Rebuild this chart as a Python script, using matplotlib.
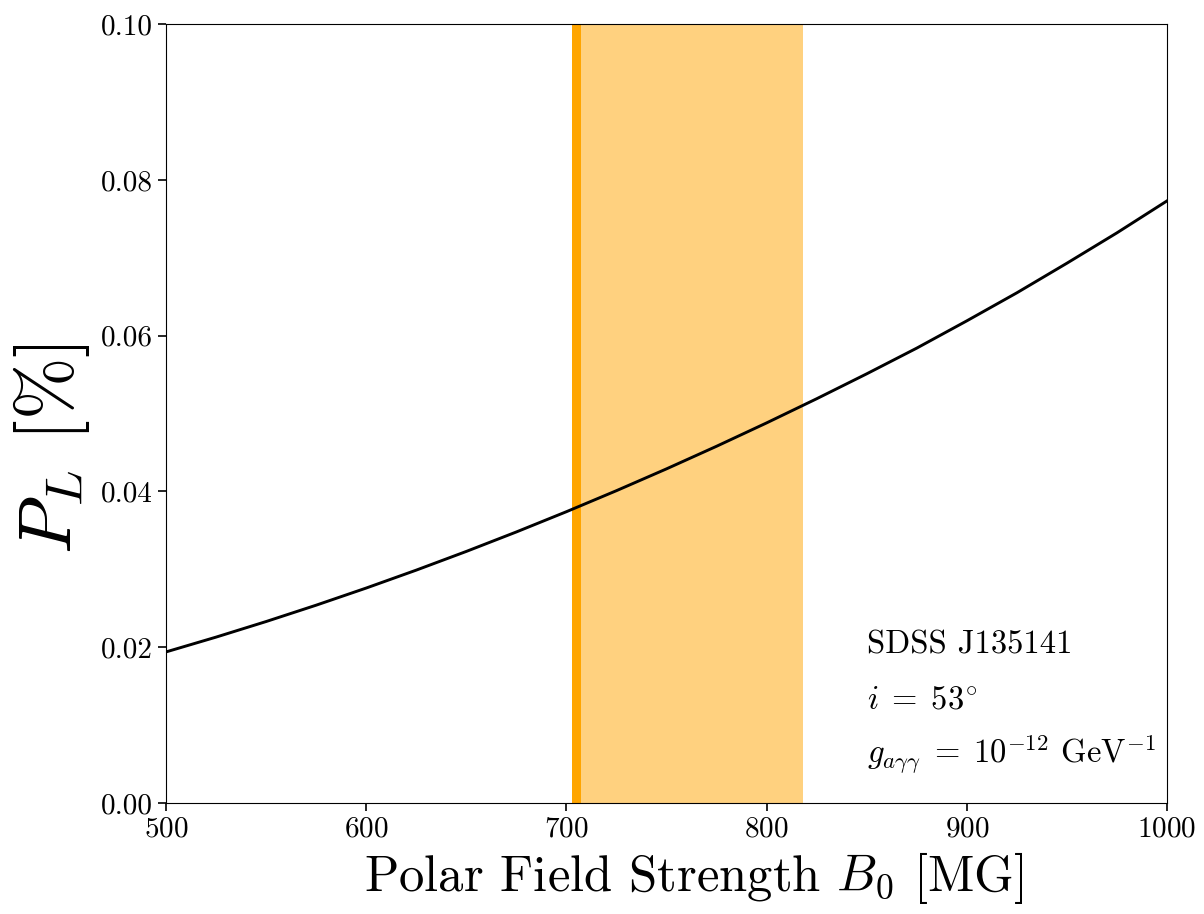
import numpy as np
import matplotlib
matplotlib.use("Agg")
import matplotlib.pyplot as plt

plt.rcParams['font.family'] = 'serif'
plt.rcParams['font.serif'] = ['cmr10']
plt.rcParams['mathtext.fontset'] = 'cm'
plt.rcParams['axes.formatter.use_mathtext'] = True

# values
B0 = [500, 525, 550, 575, 600, 625, 650, 675, 700, 725, 750,
      775, 800, 825, 850, 875, 900, 925, 950, 975, 1000]
PL = [0.0194, 0.0213, 0.0233, 0.0254, 0.0276, 0.0299, 0.0323, 0.0348,
      0.0374, 0.0401, 0.0429, 0.0458, 0.0488, 0.0519, 0.0551, 0.0584,
      0.0619, 0.0655, 0.0693, 0.0732, 0.0773]

band_lo, band_hi = 702.6, 818.0    # allowed B0 range
strip_lo, strip_hi = 702.6, 707.1  # darker strip

fig = plt.figure(figsize=(12.04, 9.14), dpi=100)
ax = fig.add_axes([0.1379, 0.1214, 0.8314, 0.8523])

ax.axvspan(band_lo, band_hi, color='orange', alpha=0.5, lw=0)
ax.axvspan(strip_lo, strip_hi, color='orange', alpha=1.0, lw=0)
ax.plot(B0, PL, color='black', lw=2.1)

ax.set_xlim(500, 1000)
ax.set_ylim(0, 0.1)
ax.set_xticks([500, 600, 700, 800, 900, 1000])
ax.set_yticks([0.0, 0.02, 0.04, 0.06, 0.08, 0.10])
ax.set_yticklabels(['0.00', '0.02', '0.04', '0.06', '0.08', '0.10'])
ax.tick_params(labelsize=21, direction='out', length=6, width=1.2)

ax.set_xlabel(r'Polar Field Strength $B_0$ [MG]', fontsize=36.5)
ax.xaxis.set_label_coords(0.5275, -0.060)
ax.set_ylabel(r'$P_L$ [%]', fontsize=54)
ax.yaxis.set_label_coords(-0.074, 0.4544)

ax.text(0.7, 0.192, 'SDSS J135141', transform=ax.transAxes, fontsize=23.5)
ax.text(0.7, 0.122, r'$i\;=\;53^{\circ}$', transform=ax.transAxes, fontsize=23.5)
ax.text(0.7, 0.052, r'$g_{a\gamma\gamma}\;=\;10^{-12}$ GeV$^{-1}$',
        transform=ax.transAxes, fontsize=23.5)

fig.savefig('out.png', dpi=100)
